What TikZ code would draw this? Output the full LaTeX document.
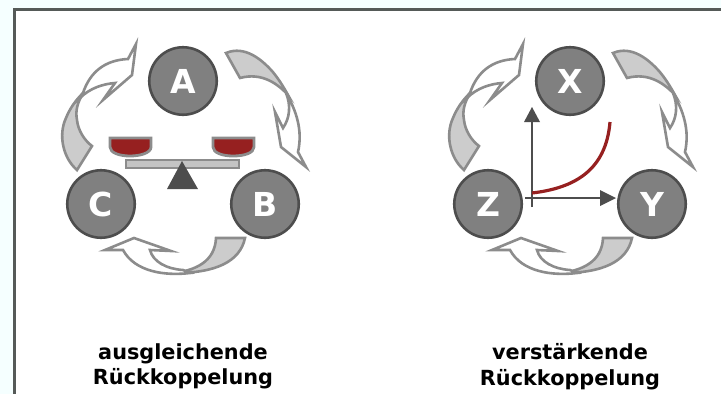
\documentclass[tikz,border=0pt]{standalone}
\usepackage{fontspec}
\setmainfont{DejaVu Sans}
\definecolor{bgc}{HTML}{F5FFFF}
\definecolor{frm}{HTML}{555A58}
\definecolor{nodefill}{HTML}{808080}
\definecolor{nodeline}{HTML}{4D4D4D}
\definecolor{arrline}{HTML}{8C8C8C}
\definecolor{arrfill}{HTML}{CCCCCC}
\definecolor{redc}{HTML}{962020}
\tikzset{
  x=1pt,y=-1pt,
  circ/.style={circle,draw=nodeline,fill=nodefill,line width=2.6pt,minimum size=67.5pt,inner sep=0pt,text=white,font=\fontsize{33}{33}\selectfont\bfseries},
  arrsolid/.style={draw=arrline,fill=arrfill,line width=2.6pt,line join=miter},
  arrhollow/.style={draw=arrline,fill=white,line width=2.6pt,line join=miter},
  lab/.style={align=center,font=\fontsize{20.8}{25.5}\selectfont\bfseries,text=black},
  axisline/.style={draw=nodeline,line width=2.6pt},
  axishead/.style={fill=nodeline},
  panstyle/.style={draw=arrline,fill=redc,line width=2.8pt},
  redcurve/.style={draw=redc,line width=3.2pt}
}
\newcommand{\cyclearrows}[1]{%
\begin{scope}[shift={(#1,0)}]
 % top-left
 \path[arrsolid] (77,170) .. controls (63,158) and (58,135) .. (66,118) .. controls (70,108) and (76,100) .. (83,93) .. controls (78,102) and (75,110) .. (77,120) .. controls (78,130) and (84,140) .. (92,146) -- cycle;
 \path[arrhollow] (83,93) .. controls (90,72) and (105,60) .. (128,59) -- (136,44) -- (132,75) -- (103,100) -- (115,83) .. controls (103,84) and (90,88) .. (80,98) -- cycle;
 % top-right
 \path[arrsolid] (226,53) .. controls (245,45) and (262,60) .. (272,71) .. controls (278,78) and (283,86) .. (288,95) .. controls (278,84) and (262,72) .. (240,78) -- cycle;
 \path[arrhollow] (286,93) .. controls (296,110) and (303,130) .. (298,152) -- (306,167) -- (281,147) -- (275,112) -- (283,128) .. controls (290,118) and (291,105) .. (286,93) -- cycle;
 % bottom
 \path[arrsolid] (216,238) -- (245,238) .. controls (240,262) and (215,273) .. (175,273) .. controls (195,270) and (215,262) .. (216,238) -- cycle;
 \path[arrhollow] (190,273) .. controls (165,276) and (135,272) .. (123,250) -- (105,250) -- (134,238) -- (171,251) -- (150,250) .. controls (153,262) and (167,269) .. (183,270) -- cycle;
\end{scope}}
\begin{document}
\begin{tikzpicture}
\useasboundingbox (0,0) rectangle (721,394);
\fill[bgc] (0,0) rectangle (721,394);
\fill[white] (14,9) rectangle (721,394);
\draw[frm,line width=3pt] (14.5,394) -- (14.5,9) -- (721,9);
\cyclearrows{0}
\cyclearrows{387}
\node[circ] (A) at (183,81) {A};
\node[circ] (B) at (265,204) {B};
\node[circ] (C) at (101,204) {C};
\node[circ] (X) at (570,81) {X};
\node[circ] (Y) at (652,204) {Y};
\node[circ] (Z) at (488,204) {Z};
% balance
\path[draw=arrline,fill=arrfill!90!gray,line width=2.8pt] (126,160) rectangle (239,168);
\fill[nodeline] (182,161) -- (198,189) -- (167,189) -- cycle;
\path[panstyle] (110,138) -- (151,138) -- (151,147) .. controls (151,153) and (140,156) .. (130,156) .. controls (120,156) and (110,153) .. (110,147) -- cycle;
\path[panstyle] (213,138) -- (254,138) -- (254,147) .. controls (254,153) and (244,156) .. (233,156) .. controls (223,156) and (213,153) .. (213,147) -- cycle;
% axes
\coordinate (ox) at (525,198);
\coordinate (oy) at (532,207);
\coordinate (xe) at (605,198);
\coordinate (ye) at (532,118);
\draw[axisline] (oy) -- (ye);
\draw[axisline] (ox) -- (xe);
\fill[axishead] (532,107) -- (540,122) -- (524,122) -- cycle;
\fill[axishead] (616,198) -- (600,190) -- (600,206) -- cycle;
\draw[redcurve] (532,193) .. controls (575,188) and (606,170) .. (610,122);
\node[lab] (t1) at (183,366.5) {ausgleichende\\Rückkoppelung};
\node[lab] (t2) at (570,366.5) {verstärkende\\Rückkoppelung};
\end{tikzpicture}
\end{document}
